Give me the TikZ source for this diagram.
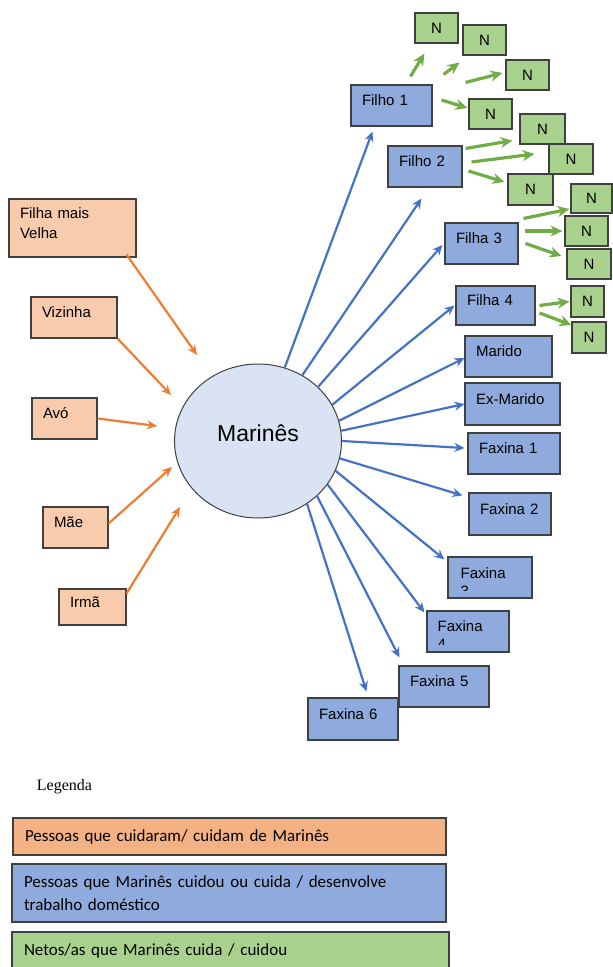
\documentclass[tikz,border=0pt]{standalone}
\usepackage{fontspec}
\setmainfont{Liberation Sans}
\newfontfamily\legfont{Carlito}
\newfontfamily\titfont{Liberation Serif}
\usetikzlibrary{arrows.meta,shapes.geometric}
\definecolor{cLine}{HTML}{404040}
\definecolor{cPeach}{HTML}{F8CBAD}
\definecolor{cPeachLeg}{HTML}{F4B183}
\definecolor{cBlueBox}{HTML}{8FAADC}
\definecolor{cGreenBox}{HTML}{A9D18E}
\definecolor{cEllip}{HTML}{DAE3F3}
\definecolor{cOrangeAr}{HTML}{ED7D31}
\definecolor{cBlueAr}{HTML}{4472C4}
\definecolor{cGreenAr}{HTML}{70AD47}
\tikzset{
  bx/.style={draw=cLine, line width=1.1pt, inner xsep=11pt, inner ysep=2pt, align=left,
             text height=11pt, text depth=11pt, font=\fontsize{15}{20}\selectfont},
  sz/.style 2 args={text width=#1pt, minimum height=#2pt},
  nsz/.style 2 args={minimum width=#1pt, minimum height=#2pt},
  cuidador/.style={bx, fill=cPeach},
  cuidado/.style={bx, fill=cBlueBox},
  neto/.style={draw=cLine, line width=1.1pt, fill=cGreenBox, inner sep=0pt,
               font=\fontsize{15}{17}\selectfont},
  centro/.style={ellipse, draw=cLine, line width=1pt, fill=cEllip, inner sep=0pt,
                 minimum width=167pt, minimum height=154pt, text height=16pt, text depth=16pt,
                 font=\fontsize{23}{27}\selectfont},
  corte/.style={anchor=north west, inner sep=0pt, align=left, font=\fontsize{15}{18}\selectfont},
  legbox/.style={draw=cLine, line width=1.1pt, inner xsep=12pt, align=left,
                 font=\legfont\fontsize{17}{23}\selectfont},
  titulo/.style={inner sep=0pt, font=\titfont\fontsize{16}{18}\selectfont},
  aro/.style={-{Stealth[length=10pt,width=9pt]}, line width=2.2pt, cOrangeAr},
  arb/.style={-{Stealth[length=10pt,width=9pt]}, line width=2.2pt, cBlueAr},
  arn/.style={-{Stealth[length=12pt,width=11pt]}, line width=3.2pt, cGreenAr},
}
\begin{document}
\begin{tikzpicture}[x=1pt, y=-1pt]
  \path[use as bounding box, clip] (0,0) rectangle (613,967);

  \node[cuidador, sz={105}{58}, text depth=30pt] (fmv) at (72.5,228) {Filha mais\\Velha};
  \node[cuidador, sz={64}{41}] (viz) at (74,317.5) {Vizinha};
  \node[cuidador, sz={43}{41}] (avo) at (64.5,418.5) {Avó};
  \node[cuidador, sz={43}{41}] (mae) at (75.5,527.5) {Mãe};
  \node[cuidador, sz={45}{36}] (irma) at (92.5,607) {Irmã};

  \node[centro] (mar) at (258,441) {Marinês};

  \node[cuidado, sz={59}{41}] (f1) at (391.5,105.5) {Filho 1};
  \node[cuidado, sz={52}{41}] (f2) at (425,166.5) {Filho 2};
  \node[cuidado, sz={51}{41}] (f3) at (481.5,243.5) {Filha 3};
  \node[cuidado, sz={57}{39}] (f4) at (495.5,305.5) {Filha 4};
  \node[cuidado, sz={65}{41}] (mrd) at (508.5,356.5) {Marido};
  \node[cuidado, sz={73}{42}] (exm) at (512.5,404) {Ex-Marido};
  \node[cuidado, sz={70}{41}] (fx1) at (514,453.5) {Faxina 1};
  \node[cuidado, sz={60}{42}] (fx2) at (510,514) {Faxina 2};
  \node[cuidado, sz={62}{41}] (fx3) at (490,577.5) {};
  \node[cuidado, sz={60}{41}] (fx4) at (468,631.5) {};
  \node[cuidado, sz={68}{41}] (fx5) at (444,686.5) {Faxina 5};
  \node[cuidado, sz={68}{42}] (fx6) at (353,719) {Faxina 6};

  \begin{scope}
    \clip (fx3.north west) rectangle ([yshift=8pt]fx3.south east);
    \node[corte] (fx3txt) at ([shift={(13,11)}]fx3.north west) {Faxina\\3};
  \end{scope}
  \begin{scope}
    \clip (fx4.north west) rectangle ([yshift=8pt]fx4.south east);
    \node[corte] (fx4txt) at ([shift={(11,10)}]fx4.north west) {Faxina\\4};
  \end{scope}

  \node[neto, nsz={43}{30}] (n1) at (436.5,28) {N};
  \node[neto, nsz={43}{30}] (n2) at (484.5,40) {N};
  \node[neto, nsz={43}{30}] (n3) at (527.5,75) {N};
  \node[neto, nsz={43}{30}] (n4) at (490.5,114) {N};
  \node[neto, nsz={44}{30}] (n6) at (571,159) {N};
  \node[neto, nsz={45}{30}] (n5) at (542.5,129) {N};
  \node[neto, nsz={45}{31}] (n7) at (530.5,189.5) {N};
  \node[neto, nsz={41}{29}] (n8) at (591.5,198.5) {N};
  \node[neto, nsz={43}{30}] (n9) at (586.5,231) {N};
  \node[neto, nsz={44}{30}] (n10) at (589,264) {N};
  \node[neto, nsz={33}{31}] (n11) at (587.5,301.5) {N};
  \node[neto, nsz={34}{31}] (n12) at (589,337.5) {N};

  \draw[aro] ([shift={(-10,-3)}]fmv.south east) -- ([shift={(-61,-86)}]mar.center);
  \draw[aro] (viz.south east) -- ([shift={(-87,-46)}]mar.center);
  \draw[aro] (avo.east) -- ([shift={(-101,-15)}]mar.center);
  \draw[aro] ([shift={(0,-4)}]mae.east) -- ([shift={(-86,26)}]mar.center);
  \draw[aro] ([shift={(0,5)}]irma.north east) -- ([shift={(-78,66)}]mar.center);

  \draw[arb] (mar.70) -- ([shift={(22,5)}]f1.south west);
  \draw[arb] (mar.56) -- ([shift={(34,11)}]f2.south west);
  \draw[arb] (mar.42) -- ([shift={(-2,1.5)}]f3.west);
  \draw[arb] (mar.26) -- ([shift={(-1,0)}]f4.west);
  \draw[arb] (mar.14) -- ([shift={(0,1.5)}]mrd.west);
  \draw[arb] (mar.7) -- (exm.west);
  \draw[arb] (mar.0) -- ([shift={(-3,-5.5)}]fx1.west);
  \draw[arb] (mar.348) -- ([shift={(-6,3)}]fx2.north west);
  \draw[arb] (mar.339) -- ([shift={(-3,3)}]fx3.north west);
  \draw[arb] (mar.328) -- ([shift={(-2,2)}]fx4.north west);
  \draw[arb] (mar.317) -- ([shift={(1,-8)}]fx5.north west);
  \draw[arb] (mar.308) -- ([shift={(59,-6)}]fx6.north west);

  \draw[arn] ([shift={(60,-8)}]f1.north west) -- ([shift={(10,10)}]n1.south west);
  \draw[arn] ([shift={(11,-10)}]f1.north east) -- ([shift={(-3,7)}]n2.south west);
  \draw[arn] ([shift={(33,-2)}]f1.north east) -- ([shift={(-3,-2)}]n3.west);
  \draw[arn] ([shift={(9,-5.5)}]f1.east) -- ([shift={(-1,-6)}]n4.west);
  \draw[arn] ([shift={(3,3)}]f2.north east) -- ([shift={(-7,-4)}]n5.south west);
  \draw[arn] ([shift={(9,-4.5)}]f2.east) -- ([shift={(-14,-5)}]n6.west);
  \draw[arn] ([shift={(6,4.5)}]f2.east) -- ([shift={(-3,-7.5)}]n7.west);
  \draw[arn] ([shift={(5,-4)}]f3.north east) -- ([shift={(-1,10.5)}]n8.west);
  \draw[arn] ([shift={(6,-12.5)}]f3.east) -- ([shift={(-2,0)}]n9.west);
  \draw[arn] ([shift={(7,0)}]f3.east) -- ([shift={(-5,-8)}]n10.west);
  \draw[arn] ([shift={(4,0)}]f4.east) -- ([shift={(-1,0)}]n11.west);
  \draw[arn] ([shift={(4,7.5)}]f4.east) -- ([shift={(0,-12.5)}]n12.west);

  \node[titulo] (leg) at (64.5,787) {Legenda};
  \node[legbox, fill=cPeachLeg, text width=409pt, minimum height=37pt] (lg1) at (229.5,836.5)
    {Pessoas que cuidaram/ cuidam de Marinês};
  \node[legbox, fill=cBlueBox, text width=410pt, minimum height=58pt] (lg2) at (229,893)
    {Pessoas que Marinês cuidou ou cuida / desenvolve\\trabalho doméstico};
  \node[legbox, fill=cGreenBox, text width=413pt, minimum height=37pt] (lg3) at (230.5,950.5)
    {Netos/as que Marinês cuida / cuidou};
\end{tikzpicture}
\end{document}
